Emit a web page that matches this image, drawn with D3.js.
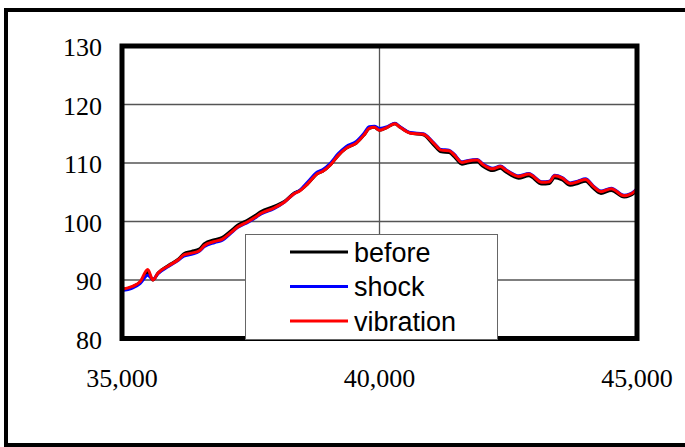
<!DOCTYPE html>
<html>
<head>
<meta charset="utf-8">
<script src="https://cdn.jsdelivr.net/npm/d3@7"></script>
<style>
    body { margin: 0; background: #fff; }
    svg text.serif { font-family: "Liberation Serif", "DejaVu Serif", "Noto Serif", "Times New Roman", Times, serif; }
    svg text.sans { font-family: "Liberation Sans", Arial, Helvetica, sans-serif; }
</style>
</head>
<body>
<div id="chart"></div>
<script>

// data
const seriesNames = ["before", "shock", "vibration"];
const seriesColors = ["#000000", "#0000ff", "#ff0000"];

const xValues = [35000,35200,35350,35500,35600,35700,35900,36100,36200,36350,
    36500,36600,36800,36950,37100,37250,37450,37600,37700,37950,
    38150,38350,38450,38600,38800,38900,39050,39200,39350,39550,
    39700,39800,39900,40000,40150,40300,40400,40600,40850,41050,
    41200,41350,41450,41600,41700,41900,42000,42200,42350,42450,
    42600,42700,42900,43150,43300,43400,43550,43700,43850,44000,
    44150,44300,44500,44750,44950,45000];

const beforeValues = [88.4,88.8,89.6,91.3,90.0,91.2,92.5,93.6,94.5,94.9,
    95.3,96.2,96.9,97.3,98.3,99.4,100.3,101.1,101.7,102.6,
    103.4,104.9,105.3,106.4,108.2,108.6,109.7,111.3,112.5,113.4,
    114.8,115.9,116.1,115.6,116.1,116.7,116.1,115.1,114.8,113.1,
    111.9,111.8,111.1,109.8,110.0,110.2,109.5,108.7,109.1,108.5,
    107.7,107.4,107.8,106.4,106.5,107.5,107.1,106.2,106.5,106.9,
    105.7,104.8,105.3,104.2,104.9,105.4];

const shockValues = [88.2,88.6,89.4,90.8,90.1,91.1,92.3,93.4,94.1,94.4,
    94.9,95.7,96.4,96.8,97.9,99.0,99.9,100.7,101.3,102.2,
    103.3,104.8,105.3,106.7,108.5,108.9,110.0,111.6,112.8,113.7,
    115.1,116.2,116.3,115.9,116.2,116.8,116.2,115.2,115.0,113.5,
    112.3,112.2,111.5,110.2,110.4,110.6,109.9,109.1,109.5,108.9,
    108.1,107.8,108.2,106.8,106.9,107.9,107.5,106.6,106.9,107.3,
    106.1,105.2,105.7,104.5,105.2,105.6];

const vibrationValues = [88.4,88.9,89.7,91.8,90.0,91.2,92.4,93.5,94.3,94.6,
    95.0,95.9,96.6,97.0,98.0,99.1,100.0,100.8,101.4,102.3,
    103.3,104.8,105.2,106.4,108.2,108.6,109.7,111.3,112.5,113.4,
    114.8,115.9,116.1,115.6,116.1,116.7,116.1,115.1,114.9,113.4,
    112.2,112.1,111.4,110.1,110.3,110.5,109.8,109.0,109.4,108.8,
    108.0,107.7,108.1,106.7,106.8,107.8,107.4,106.5,106.8,107.2,
    106.0,105.1,105.6,104.4,105.1,105.5];

const yTicks = [80, 90, 100, 110, 120, 130];
const xTicks = [35000, 40000, 45000];

class LineVis {

    constructor(_parentElement) {
        this.parentElement = _parentElement;
        this.initVis();
    }

    initVis() {
        let vis = this;
        vis.width = 685;
        vis.height = 447;
        vis.plot = { left: 122, right: 637, top: 46, bottom: 338.5 };

        vis.svg = d3.select("#" + vis.parentElement).append("svg")
            .attr("width", vis.width)
            .attr("height", vis.height);

        // outer frame, right edge runs off the picture
        vis.svg.append("rect")
            .attr("x", 6).attr("y", 10)
            .attr("width", 700).attr("height", 435)
            .attr("fill", "none")
            .attr("stroke", "#000")
            .attr("stroke-width", 4);

        vis.x = d3.scaleLinear().domain([35000, 45000]).range([vis.plot.left, vis.plot.right]);
        vis.y = d3.scaleLinear().domain([80, 130]).range([vis.plot.bottom, vis.plot.top]);

        vis.line = d3.line()
            .x(d => vis.x(d[0]))
            .y(d => vis.y(d[1]))
            .curve(d3.curveMonotoneX);

        vis.wrangleData();
    }

    wrangleData() {
        let vis = this;
        let all = [beforeValues, shockValues, vibrationValues];
        vis.displayData = seriesNames.map((name, i) => ({
            name: name,
            color: seriesColors[i],
            values: xValues.map((x, j) => [x, all[i][j]])
        }));
        vis.updateVis();
    }

    updateVis() {
        let vis = this;

        // gridlines
        vis.svg.append("g")
            .selectAll("line")
            .data(yTicks.slice(1, -1))
            .join("line")
            .attr("x1", vis.plot.left).attr("x2", vis.plot.right)
            .attr("y1", d => vis.y(d)).attr("y2", d => vis.y(d))
            .attr("stroke", "#555").attr("stroke-width", 1.3);

        vis.svg.append("line")
            .attr("x1", vis.x(40000)).attr("x2", vis.x(40000))
            .attr("y1", vis.plot.top).attr("y2", vis.plot.bottom)
            .attr("stroke", "#555").attr("stroke-width", 1.3);

        // series
        vis.svg.append("g")
            .selectAll("path")
            .data(vis.displayData)
            .join("path")
            .attr("d", d => vis.line(d.values))
            .attr("fill", "none")
            .attr("stroke", d => d.color)
            .attr("stroke-width", 3)
            .attr("stroke-linejoin", "round");

        // plot frame
        vis.svg.append("rect")
            .attr("x", vis.plot.left).attr("y", vis.plot.top)
            .attr("width", vis.plot.right - vis.plot.left)
            .attr("height", vis.plot.bottom - vis.plot.top)
            .attr("fill", "none")
            .attr("stroke", "#000")
            .attr("stroke-width", 5);

        // axis labels
        vis.svg.append("g")
            .selectAll("text")
            .data(yTicks)
            .join("text")
            .attr("class", "serif")
            .style("font-size", "26px")
            .attr("x", 102)
            .attr("y", d => vis.y(d) + 10)
            .attr("text-anchor", "end")
            .text(d => d);

        vis.svg.append("g")
            .selectAll("text")
            .data(xTicks)
            .join("text")
            .attr("class", "serif")
            .style("font-size", "26px")
            .attr("x", d => vis.x(d))
            .attr("y", 387)
            .attr("text-anchor", "middle")
            .text(d => d3.format(",")(d));

        // legend
        let legend = vis.svg.append("g");
        legend.append("rect")
            .attr("x", 245.5).attr("y", 234.5)
            .attr("width", 252).attr("height", 105)
            .attr("fill", "#fff")
            .attr("stroke", "#666")
            .attr("stroke-width", 1);

        let rows = legend.selectAll("g")
            .data(vis.displayData)
            .join("g")
            .attr("transform", (d, i) => "translate(0," + (252 + i * 34.5) + ")");

        rows.append("line")
            .attr("x1", 290).attr("x2", 348)
            .attr("stroke", d => d.color)
            .attr("stroke-width", 3);

        rows.append("text")
            .attr("class", "sans")
            .style("font-size", "27px")
            .attr("x", 354)
            .attr("y", 9.5)
            .text(d => d.name);
    }
}

new LineVis("chart");
</script>
</body>
</html>
